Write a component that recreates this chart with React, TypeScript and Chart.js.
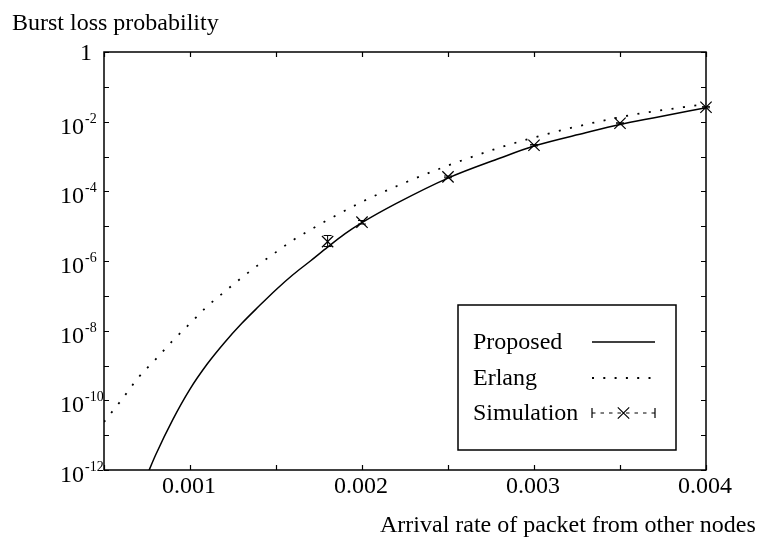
import React, { useEffect, useRef } from "react";
import { Chart, registerables } from "chart.js";

Chart.register(...registerables);

const FONT = '"Liberation Serif", "Times New Roman", Times, serif';

// Proposed model (solid line)
const proposedX = [0.00075, 0.0008, 0.0009, 0.001, 0.0011, 0.0012, 0.0013, 0.0014, 0.0015, 0.0016, 0.0017, 0.0018, 0.0019, 0.002, 0.0022, 0.0025, 0.0028, 0.003, 0.0033, 0.0035, 0.0037, 0.004];
const proposedY = [7.1e-13, 2.7e-12, 2.8e-11, 2.1e-10, 1.1e-9, 4.5e-9, 1.6e-8, 5.0e-8, 1.5e-7, 4.1e-7, 1.0e-6, 2.5e-6, 6.0e-6, 1.26e-5, 4.5e-5, 2.4e-4, 8.9e-4, 2.0e-3, 4.8e-3, 8.3e-3, 1.3e-2, 2.5e-2];

// Erlang (dotted line)
const erlangX = [0.0005, 0.0006, 0.0007, 0.0008, 0.0009, 0.001, 0.0011, 0.0012, 0.0013, 0.0014, 0.0015, 0.0016, 0.0017, 0.0018, 0.002, 0.0022, 0.0025, 0.0028, 0.003, 0.0033, 0.0036, 0.004];
const erlangY = [2.4e-11, 1.0e-10, 4.5e-10, 1.5e-9, 5.2e-9, 1.6e-8, 5.0e-8, 1.3e-7, 3.3e-7, 7.9e-7, 1.8e-6, 4.0e-6, 7.9e-6, 1.5e-5, 5.0e-5, 1.4e-4, 5.5e-4, 1.8e-3, 3.5e-3, 8.3e-3, 1.66e-2, 3.2e-2];

// Simulation (markers with error bars)
const simX = [0.0018, 0.002, 0.0025, 0.003, 0.0035, 0.004];
const simY = [3.6e-6, 1.3e-5, 2.6e-4, 2.1e-3, 9.0e-3, 2.6e-2];
const simLow = [2.6e-6, 1.15e-5, 2.45e-4, 2.0e-3, 8.7e-3, 2.5e-2];
const simHigh = [5.4e-6, 1.45e-5, 2.75e-4, 2.2e-3, 9.3e-3, 2.7e-2];

const xTickValues = [0.0005, 0.001, 0.0015, 0.002, 0.0025, 0.003, 0.0035, 0.004];
const xTickLabels = ["", "0.001", "", "0.002", "", "0.003", "", "0.004"];

const yTickValues = [1, 1e-1, 1e-2, 1e-3, 1e-4, 1e-5, 1e-6, 1e-7, 1e-8, 1e-9, 1e-10, 1e-11, 1e-12];
const yTickBases = ["1", "", "10", "", "10", "", "10", "", "10", "", "10", "", "10"];
const yTickExps = ["", "", "-2", "", "-4", "", "-6", "", "-8", "", "-10", "", "-12"];

const legendLabels = ["Proposed", "Erlang", "Simulation"];
const xTitle = "Arrival rate of packet from other nodes";
const yTitle = "Burst loss probability";

const decorPlugin = {
  id: "decor",
  afterDatasetsDraw(chart: any) {
    const { ctx, chartArea: a, scales } = chart;
    const xs = scales.x;
    const ys = scales.y;
    ctx.save();
    ctx.strokeStyle = "#000";
    ctx.fillStyle = "#000";

    // error bars
    ctx.lineWidth = 1;
    ctx.setLineDash([]);
    ctx.beginPath();
    simX.forEach((x, i) => {
      const px = xs.getPixelForValue(x);
      const lo = ys.getPixelForValue(simLow[i]);
      const hi = ys.getPixelForValue(simHigh[i]);
      ctx.moveTo(px, lo);
      ctx.lineTo(px, hi);
      ctx.moveTo(px - 4, lo);
      ctx.lineTo(px + 4, lo);
      ctx.moveTo(px - 4, hi);
      ctx.lineTo(px + 4, hi);
    });
    ctx.stroke();

    // frame
    ctx.lineWidth = 1.5;
    ctx.strokeRect(a.left, a.top, a.right - a.left, a.bottom - a.top);

    // tick marks (inward, mirrored)
    ctx.lineWidth = 1.2;
    ctx.beginPath();
    xTickValues.forEach((v) => {
      const px = Math.round(xs.getPixelForValue(v)) + 0.5;
      ctx.moveTo(px, a.bottom);
      ctx.lineTo(px, a.bottom - 5);
      ctx.moveTo(px, a.top);
      ctx.lineTo(px, a.top + 5);
    });
    yTickValues.forEach((v) => {
      const py = Math.round(ys.getPixelForValue(v)) + 0.5;
      ctx.moveTo(a.left, py);
      ctx.lineTo(a.left + 5, py);
      ctx.moveTo(a.right, py);
      ctx.lineTo(a.right - 5, py);
    });
    ctx.stroke();

    ctx.textBaseline = "alphabetic";

    // x tick labels
    ctx.font = `24px ${FONT}`;
    ctx.textAlign = "center";
    xTickValues.forEach((v, i) => {
      const lab = xTickLabels[i];
      if (!lab) return;
      ctx.fillText(lab, xs.getPixelForValue(v) - 1, a.bottom + 23);
    });

    // y tick labels with superscript exponents
    yTickValues.forEach((v, i) => {
      const base = yTickBases[i];
      if (!base) return;
      const exp = yTickExps[i];
      const py = ys.getPixelForValue(v);
      ctx.font = `24px ${FONT}`;
      if (!exp) {
        ctx.textAlign = "right";
        ctx.fillText(base, a.left - 12, py + 8);
      } else {
        ctx.textAlign = "left";
        ctx.fillText(base, a.left - 44, py + 12);
        ctx.font = `14px ${FONT}`;
        ctx.fillText(exp, a.left - 19, py + 1);
      }
    });

    // axis titles
    ctx.font = `24px ${FONT}`;
    ctx.textAlign = "left";
    ctx.fillText(yTitle, 12, 30);
    ctx.fillText(xTitle, 380, 532);

    // legend
    const lx = a.right - 248;
    const ly = a.bottom - 165;
    ctx.lineWidth = 1.5;
    ctx.strokeRect(lx, ly, 218, 145);
    const rows = [ly + 37, ly + 73, ly + 108];
    const x1 = lx + 134;
    const x2 = lx + 197;
    ctx.font = `24px ${FONT}`;
    ctx.textAlign = "left";
    legendLabels.forEach((lab, i) => ctx.fillText(lab, lx + 15, rows[i] + 7));

    // Proposed sample
    ctx.lineWidth = 1.5;
    ctx.beginPath();
    ctx.moveTo(x1, rows[0]);
    ctx.lineTo(x2, rows[0]);
    ctx.stroke();
    // Erlang sample
    ctx.lineWidth = 1.8;
    ctx.setLineDash([2, 9.3]);
    ctx.beginPath();
    ctx.moveTo(x1, rows[1]);
    ctx.lineTo(x2, rows[1]);
    ctx.stroke();
    // Simulation sample
    ctx.lineWidth = 1;
    ctx.setLineDash([3.5, 5]);
    ctx.beginPath();
    ctx.moveTo(x1, rows[2]);
    ctx.lineTo(x2, rows[2]);
    ctx.stroke();
    ctx.setLineDash([]);
    ctx.beginPath();
    ctx.moveTo(x1, rows[2] - 5);
    ctx.lineTo(x1, rows[2] + 5);
    ctx.moveTo(x2, rows[2] - 5);
    ctx.lineTo(x2, rows[2] + 5);
    const cx = (x1 + x2) / 2;
    const cy = rows[2];
    const d = 5.7;
    ctx.moveTo(cx - d, cy - d);
    ctx.lineTo(cx + d, cy + d);
    ctx.moveTo(cx - d, cy + d);
    ctx.lineTo(cx + d, cy - d);
    ctx.lineWidth = 1.2;
    ctx.stroke();

    ctx.restore();
  },
};

export default function App() {
  const ref = useRef<HTMLCanvasElement | null>(null);

  useEffect(() => {
    if (!ref.current) return;
    const chart = new Chart(ref.current, {
      type: "line",
      data: {
        datasets: [
          {
            label: legendLabels[0],
            data: proposedX.map((x, i) => ({ x, y: proposedY[i] })),
            borderColor: "#000",
            borderWidth: 1.5,
            pointRadius: 0,
            cubicInterpolationMode: "monotone",
            fill: false,
          },
          {
            label: legendLabels[1],
            data: erlangX.map((x, i) => ({ x, y: erlangY[i] })),
            borderColor: "#000",
            borderWidth: 1.8,
            borderDash: [2, 9.5],
            borderCapStyle: "butt",
            pointRadius: 0,
            cubicInterpolationMode: "monotone",
            fill: false,
          },
          {
            label: legendLabels[2],
            data: simX.map((x, i) => ({ x, y: simY[i] })),
            borderColor: "#000",
            backgroundColor: "#000",
            showLine: false,
            pointStyle: "crossRot",
            pointRadius: 8,
            pointBorderWidth: 1.2,
            clip: false,
          },
        ],
      } as any,
      options: {
        responsive: false,
        animation: false,
        layout: { padding: { top: 52, right: 60, left: 0, bottom: 0 } },
        plugins: {
          legend: { display: false },
          tooltip: { enabled: false },
        },
        scales: {
          x: {
            type: "linear",
            min: 0.0005,
            max: 0.004,
            afterBuildTicks: (s: any) => {
              s.ticks = xTickValues.map((value) => ({ value }));
            },
            afterFit: (s: any) => {
              s.height = 71;
            },
            grid: { display: false, drawTicks: false },
            border: { display: false },
            ticks: { display: false },
          },
          y: {
            type: "logarithmic",
            min: 1e-12,
            max: 1,
            afterBuildTicks: (s: any) => {
              s.ticks = yTickValues.map((value) => ({ value }));
            },
            afterFit: (s: any) => {
              s.width = 104;
            },
            grid: { display: false, drawTicks: false },
            border: { display: false },
            ticks: { display: false },
          },
        },
      } as any,
      plugins: [decorPlugin],
    });
    return () => chart.destroy();
  }, []);

  return (
    <div style={{ position: "fixed", left: 0, top: 0, width: 766, height: 541, background: "#fff" }}>
      <canvas ref={ref} width={766} height={541} style={{ display: "block", width: 766, height: 541 }} />
    </div>
  );
}
